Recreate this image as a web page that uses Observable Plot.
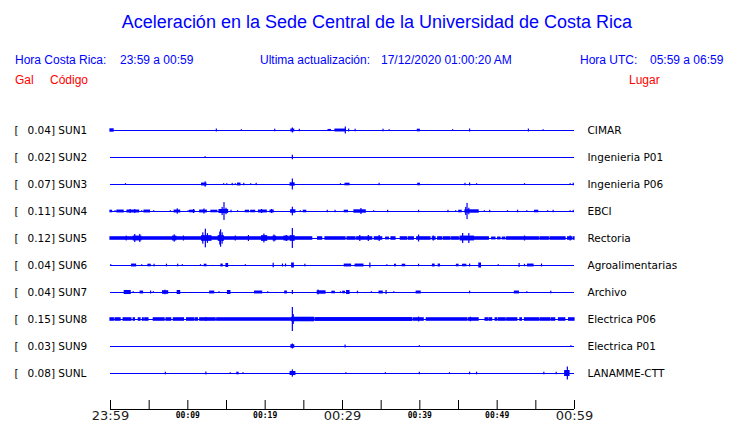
<!DOCTYPE html>
<html><head><meta charset="utf-8">
<script src="https://cdn.jsdelivr.net/npm/d3@7"></script>
<script src="https://cdn.jsdelivr.net/npm/@observablehq/plot@0.6"></script>
<style>
body{margin:0;background:#fff;width:740px;height:423px;overflow:hidden}
#head{position:relative;height:95px;font-family:"Liberation Sans",Arial,sans-serif}
#head span{position:absolute;white-space:nowrap;line-height:1}
.b{color:#0000ff}.r{color:#ff0000}
#title{left:0;width:754px;text-align:center;top:13px;font-size:18px}
.h{font-size:12px;top:54px}
.g{font-size:12px;top:74px}
svg{display:block;overflow:visible}
</style></head><body>
<div id="head">
<span id="title" class="b">Aceleración en la Sede Central de la Universidad de Costa Rica</span>
<span class="b h" style="left:15px">Hora Costa Rica:</span>
<span class="b h" style="left:120px">23:59 a 00:59</span>
<span class="b h" style="left:260px">Ultima actualización:</span>
<span class="b h" style="left:381px">17/12/2020 01:00:20 AM</span>
<span class="b h" style="left:580px">Hora UTC:</span>
<span class="b h" style="left:650px">05:59 a 06:59</span>
<span class="r g" style="left:15px">Gal</span>
<span class="r g" style="left:50px">Código</span>
<span class="r g" style="left:629px">Lugar</span>
</div>
<div id="chart"></div>
<script>
// Stations, peak values (Gal) and places
const stations = ["SUN1","SUN2","SUN3","SUN4","SUN5","SUN6","SUN7","SUN8","SUN9","SUNL"];
const galPeaks = ["0.04","0.02","0.07","0.11","0.12","0.04","0.04","0.15","0.03","0.08"];
const places = ["CIMAR","Ingenieria P01","Ingenieria P06","EBCI","Rectoria","Agroalimentarias","Archivo","Electrica P06","Electrica P01","LANAMME-CTT"];

// Time axis: minutes after 23:59
const tickMinutes = [0,5,10,15,20,25,30,35,40,45,50,55,60];
const majorTicks = [0,30,60];
const majorLabels = ["23:59","00:29","00:59"];
const minorTicks = [10,20,40,50];
const minorLabels = ["00:09","00:19","00:39","00:49"];

// Trace activity: [start minute, end minute, half amplitude in Gal]
const sun1 = [[0,0.4,0.021],[13.75,13.75,0.018],[16.98,16.98,0.01],[21.3,21.3,0.016],[23.4,23.75,0.018],[23.58,23.58,0.031],[24.48,24.48,0.015],[28.2,28.5,0.013],[29.4,29.4,0.01],[29.1,30.4,0.018],[30.43,30.43,0.043],[30.86,30.86,0.018],[31.7,31.7,0.016],[35.3,35.3,0.016],[36.1,36.1,0.01],[39.75,40.0,0.016],[44.3,44.3,0.01],[46.5,46.5,0.018],[54.1,54.1,0.018],[56.0,56.0,0.01]];
const sun2 = [[12.3,12.3,0.01],[23.58,23.58,0.028]];
const sun3 = [[2.0,2.0,0.01],[11.85,12.4,0.018],[12.3,12.3,0.033],[14.7,14.7,0.01],[15.1,15.1,0.01],[15.8,15.8,0.015],[16.2,16.2,0.01],[16.5,16.8,0.018],[17.3,17.3,0.015],[18.2,18.2,0.01],[18.9,18.9,0.015],[23.3,23.8,0.021],[23.58,23.58,0.068],[29.8,29.8,0.01],[30.4,30.9,0.016],[34.8,34.8,0.015],[39.8,40.0,0.016],[45.9,45.9,0.015],[46.5,46.5,0.018],[47.4,47.4,0.01],[53.6,53.6,0.01],[59.5,59.5,0.01],[59.9,59.9,0.016]];
const sun4 = [[0,0.2,0.016],[0.65,0.65,0.01],[0.9,1.7,0.018],[2.2,3.7,0.018],[2.6,2.6,0.025],[3.2,3.2,0.025],[4.1,4.1,0.01],[4.4,5.1,0.018],[5.65,5.65,0.01],[7.8,7.8,0.01],[8.3,9.0,0.018],[8.7,8.7,0.033],[10.1,10.1,0.01],[10.3,10.9,0.016],[10.8,10.8,0.025],[11.6,12.45,0.018],[12.15,12.15,0.031],[13.05,13.8,0.016],[14.1,15.2,0.025],[14.74,14.74,0.11],[14.5,14.5,0.05],[15.0,15.0,0.04],[15.65,15.65,0.016],[16.5,16.5,0.01],[17.5,17.9,0.016],[18.2,18.7,0.016],[19.2,20.2,0.018],[19.6,19.6,0.025],[20.7,21.1,0.018],[20.9,20.9,0.025],[23.36,23.9,0.022],[23.58,23.58,0.053],[24.6,24.6,0.01],[25.0,25.3,0.016],[28.1,28.1,0.015],[29.1,29.1,0.015],[30.3,30.7,0.016],[31.55,33.0,0.021],[32.45,32.45,0.037],[34.1,34.1,0.01],[35.9,35.9,0.015],[39.9,39.9,0.015],[43.7,43.7,0.015],[44.7,44.7,0.01],[45.1,45.4,0.016],[45.9,47.6,0.021],[46.17,46.17,0.1],[46.0,46.0,0.05],[46.4,46.4,0.04],[48.4,48.4,0.01],[49.1,49.1,0.015],[51.4,51.4,0.01],[52.7,52.7,0.016],[53.9,53.9,0.01],[54.9,55.3,0.016],[56.6,56.6,0.01],[57.3,57.3,0.015],[59.5,59.5,0.01],[59.9,59.9,0.015]];
const sun5 = [[0,26.08,0.022],[26.85,27.37,0.022],[27.8,30.39,0.022],[30.65,31.68,0.022],[31.9,32.89,0.022],[33.06,33.84,0.022],[34.18,35.13,0.022],[35.65,35.99,0.018],[36.34,36.85,0.022],[37.54,38.36,0.022],[38.58,39.22,0.022],[39.66,41.38,0.022],[41.68,42.03,0.022],[42.37,42.89,0.022],[43.1,43.97,0.022],[44.18,45.04,0.022],[45.26,48.92,0.022],[49.35,49.78,0.018],[50.13,50.43,0.018],[50.73,51.06,0.018],[51.29,52.16,0.022],[52.28,55.39,0.022],[55.6,56.68,0.022],[56.9,58.84,0.022],[59.18,59.7,0.022],[59.9,60,0.022],
  [2.1,2.1,0.03],[3.0,4.0,0.03],[3.2,3.2,0.05],[3.85,3.85,0.05],[8.1,8.5,0.03],[8.3,8.3,0.045],[9.5,9.5,0.031],[11.85,13.05,0.035],[12.0,12.0,0.07],[12.33,12.33,0.115],[12.6,12.6,0.06],[14.0,14.65,0.035],[14.2,14.2,0.08],[14.3,14.3,0.107],[14.5,14.5,0.07],[16.2,16.2,0.031],[17.9,17.9,0.037],[19.6,20.25,0.035],[19.9,19.9,0.055],[21.1,21.4,0.03],[21.2,21.2,0.043],[22.5,23.0,0.03],[22.8,22.8,0.037],[23.3,23.8,0.035],[23.58,23.58,0.123],[32.3,32.3,0.037],[33.4,33.4,0.037],[34.8,34.8,0.037],[39.9,39.9,0.043],[41.8,41.8,0.031],[45.3,47.0,0.03],[45.6,45.6,0.062],[46.4,46.4,0.062],[53.6,53.6,0.031],[59.5,59.5,0.031]];
const sun6 = [[0.1,0.1,0.01],[2.8,3.3,0.018],[4.1,4.1,0.01],[4.9,5.2,0.016],[5.7,5.7,0.016],[7.3,7.3,0.016],[8.75,8.75,0.016],[9.35,9.35,0.01],[11.7,11.7,0.01],[12.2,12.4,0.016],[14.35,14.5,0.018],[15.0,15.2,0.025],[17.5,17.5,0.01],[21.1,21.1,0.028],[22.3,22.3,0.018],[22.7,22.7,0.018],[23.5,23.7,0.031],[25.2,25.2,0.016],[30.3,31.1,0.018],[31.7,32.7,0.018],[33.6,33.6,0.031],[35.8,35.8,0.01],[36.8,36.9,0.016],[37.8,38.1,0.016],[39.9,39.9,0.015],[41.7,41.9,0.018],[42.45,42.6,0.018],[44.8,45.0,0.016],[45.6,46.0,0.016],[46.5,46.5,0.018],[47.7,47.9,0.031],[50.2,50.2,0.01],[52.9,52.9,0.025],[53.6,53.6,0.015],[54.0,54.7,0.018],[55.8,55.8,0.018]];
const sun7 = [[1.85,2.6,0.025],[3.0,3.0,0.01],[3.9,4.2,0.018],[5.25,5.25,0.018],[5.6,5.6,0.01],[6.8,7.45,0.022],[7.1,7.1,0.028],[8.7,9.0,0.025],[12.9,13.4,0.018],[14.1,14.1,0.01],[15.2,15.5,0.025],[18.7,19.6,0.018],[20.4,20.4,0.01],[22.6,22.8,0.018],[23.58,23.58,0.025],[26.8,27.8,0.021],[26.9,26.9,0.03],[28.7,29.0,0.016],[29.8,29.8,0.01],[30.1,30.3,0.016],[30.6,30.9,0.025],[32.0,32.0,0.016],[33.8,33.8,0.01],[34.8,35.2,0.018],[35.7,35.7,0.025],[36.7,36.7,0.01],[39.6,40.1,0.018],[46.5,46.5,0.016],[52.3,52.8,0.018],[53.9,53.9,0.01],[57.0,57.0,0.016]];
const sun8 = [[0,0.43,0.022],[0.65,1.3,0.022],[1.7,2.7,0.022],[3.0,3.15,0.022],[3.66,3.88,0.022],[4.2,4.3,0.022],[4.5,4.9,0.022],[5.6,7.0,0.022],[7.25,7.85,0.022],[8.2,9.5,0.022],[9.9,10.8,0.022],[11.0,11.3,0.022],[11.6,13.6,0.022],[13.8,23.5,0.022],[23.5,26.3,0.028],[26.5,39.0,0.024],[39.2,40.5,0.022],[40.9,46.1,0.022],[46.3,47.6,0.022],[48.5,48.8,0.022],[49.0,49.35,0.022],[49.8,50.0,0.022],[50.2,51.1,0.022],[51.3,52.6,0.022],[53.0,53.2,0.022],[53.6,55.4,0.022],[55.6,56.9,0.022],[57.1,57.5,0.022],[58.0,58.8,0.022],[59.3,60,0.022],
  [12.4,12.4,0.025],[23.58,23.58,0.148],[23.7,23.7,0.06],[39.9,39.9,0.03],[46.6,46.6,0.028]];
const sun9 = [[23.4,23.75,0.022],[23.58,23.58,0.031],[30.4,30.4,0.018],[40.0,40.0,0.01],[59.6,59.6,0.01]];
const sunL = [[7.15,7.15,0.016],[12.4,12.4,0.018],[15.55,15.55,0.01],[16.4,16.55,0.016],[17.2,17.2,0.01],[23.3,23.9,0.025],[23.58,23.58,0.045],[30.5,30.5,0.01],[35.6,35.6,0.01],[40.0,40.0,0.015],[43.9,43.9,0.01],[46.5,46.5,0.016],[47.4,47.4,0.016],[56.1,56.1,0.016],[57.7,57.7,0.015],[58.8,59.35,0.037],[59.14,59.14,0.08]];

const traces = [sun1,sun2,sun3,sun4,sun5,sun6,sun7,sun8,sun9,sunL];

// Layout in Gal units (traces share one amplitude scale)
const rowGap = 1/3;
const center = i => -i * rowGap;
const yBottom = center(9) - 36/81;
const yTop = 35/81;
const tickLen = 9/81;

const rows = stations.map((s, i) => ({s, gal: galPeaks[i], place: places[i], y: center(i)}));
const events = traces.flatMap((ev, i) => ev.map(([t0, t1, a]) => ({t0, t1, y1: center(i) - a, y2: center(i) + a})));

const blue = "#0000ff";
const chart = Plot.plot({
  width: 740, height: 328,
  marginTop: 0, marginBottom: 14, marginLeft: 110, marginRight: 166,
  x: {domain: [0, 60], axis: null},
  y: {domain: [yBottom, yTop], axis: null},
  style: {background: "#fff", overflow: "visible"},
  marks: [
    Plot.ruleY(rows, {y: "y", x1: 0, x2: 60, stroke: blue, strokeWidth: 1}),
    Plot.rect(events, {x1: "t0", x2: "t1", y1: "y1", y2: "y2", fill: blue, insetLeft: -0.6, insetRight: -0.6}),
    Plot.ruleY([yBottom], {x1: 0, x2: 60, stroke: "#000"}),
    Plot.ruleX(tickMinutes, {x: d => d, y1: yBottom, y2: yBottom + tickLen, stroke: "#000"}),
    Plot.text(majorTicks, {x: d => d, y: yBottom, text: (d, i) => majorLabels[i], dy: 6.5, fontSize: 13, fontFamily: "DejaVu Sans", fill: "#222", letterSpacing: "0.5px"}),
    Plot.text(minorTicks, {x: d => d, y: yBottom, text: (d, i) => minorLabels[i], dy: 6, fontSize: 8, fontFamily: "DejaVu Sans Mono", fontWeight: "bold", fill: "#000"}),
    Plot.text(rows, {x: 0, y: "y", text: () => "[", dx: -96, textAnchor: "start", fontSize: 10.5, fontFamily: "DejaVu Sans", fill: "#000"}),
    Plot.text(rows, {x: 0, y: "y", text: d => `${d.gal}] ${d.s}`, dx: -83, textAnchor: "start", fontSize: 10.5, fontFamily: "DejaVu Sans", fill: "#000"}),
    Plot.text(rows, {x: 60, y: "y", text: "place", dx: 13, textAnchor: "start", fontSize: 10.5, fontFamily: "DejaVu Sans", fill: "#000"})
  ]
});
document.getElementById("chart").append(chart);
</script>
</body></html>
